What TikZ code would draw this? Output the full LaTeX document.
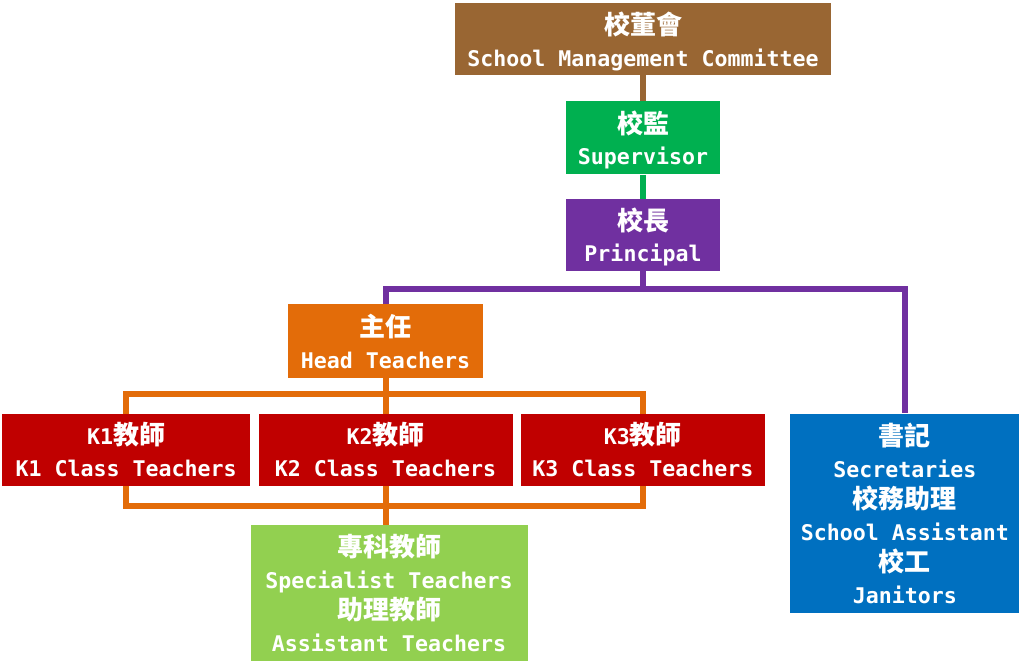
\documentclass[tikz,border=0pt]{standalone}
\definecolor{SmcBrown}{RGB}{153, 102, 51}
\definecolor{SupGreen}{RGB}{0, 176, 80}
\definecolor{PrinPurple}{RGB}{112, 48, 160}
\definecolor{HeadOrange}{RGB}{227, 108, 9}
\definecolor{ClassRed}{RGB}{192, 0, 0}
\definecolor{StaffBlue}{RGB}{0, 112, 192}
\definecolor{SpecGreen}{RGB}{146, 208, 80}
\usepackage{fontspec}
\setmainfont{DejaVu Sans Mono}
\newfontfamily\cjk{Noto Sans CJK TC}
\newcommand{\zh}[1]{{\cjk\fontsize{26}{31.5}\selectfont #1}}
\usepackage{tikz}
\usetikzlibrary{positioning, calc, backgrounds}

\begin{document}
\begin{tikzpicture}[
        x=1pt, y=1pt,
        orgbox/.style={rectangle, fill=#1, text=white, inner sep=0pt, align=center, text depth=0pt, minimum height=72pt, font=\bfseries\fontsize{21.6}{31.5}\selectfont},
        link/.style={draw=#1, line width=6pt}
    ]
        \useasboundingbox (0,0) rectangle (1024,-670);

        % Top
        \node[orgbox=SmcBrown, minimum width=376pt] (smc) at (643,-39) {\zh{校董會}\\School Management Committee};
        \node[orgbox=SupGreen, minimum width=154pt, minimum height=73pt, below=26pt of smc] (sup) {\zh{校監}\\Supervisor};
        \node[orgbox=PrinPurple, minimum width=154pt, below=24pt of sup] (prin) {\zh{校長}\\Principal};

        % Teachers
        \node[orgbox=HeadOrange, minimum width=195pt, minimum height=74pt, below=33pt of prin, xshift=-257.5pt] (head) {\zh{主任}\\Head Teachers};
        \node[orgbox=ClassRed, minimum width=254pt, below=35pt of head] (k2) {K2\zh{教師}\\K2 Class Teachers};
        \node[orgbox=ClassRed, minimum width=248pt, left=8pt of k2] (k1) {K1\zh{教師}\\K1 Class Teachers};
        \node[orgbox=ClassRed, minimum width=244pt, right=8pt of k2] (k3) {K3\zh{教師}\\K3 Class Teachers};
        \node[orgbox=SpecGreen, minimum width=277pt, minimum height=136pt, below=39pt of k2, xshift=3.5pt] (spec) {\zh{專科教師}\\Specialist Teachers\\\zh{助理教師}\\Assistant Teachers};

        % Staff
        \node[orgbox=StaffBlue, minimum width=229pt, minimum height=199pt, right=25pt of k3.north east, anchor=north west] (staff) {\zh{書記}\\Secretaries\\\zh{校務助理}\\School Assistant\\\zh{校工}\\Janitors};

        % Lines
        \coordinate (ktop) at ($(head.south)+(0,-16)$);
        \coordinate (kbot) at ($(k2.south)+(0,-20)$);
        \begin{scope}[on background layer]
            \draw[link=SmcBrown] (smc) -- (sup);
            \draw[link=SupGreen] (sup) -- (prin);
            \draw[link=PrinPurple] (prin.south) -- ++(0,-18) -| (head.north);
            \draw[link=PrinPurple] (prin.south) -- ++(0,-18) -| (staff.north);
            \draw[link=HeadOrange] (head.south) -- (head.south |- spec.north);
            \draw[link=HeadOrange] (k1.center |- ktop) rectangle (k3.center |- kbot);
        \end{scope}
    \end{tikzpicture}
\end{document}
